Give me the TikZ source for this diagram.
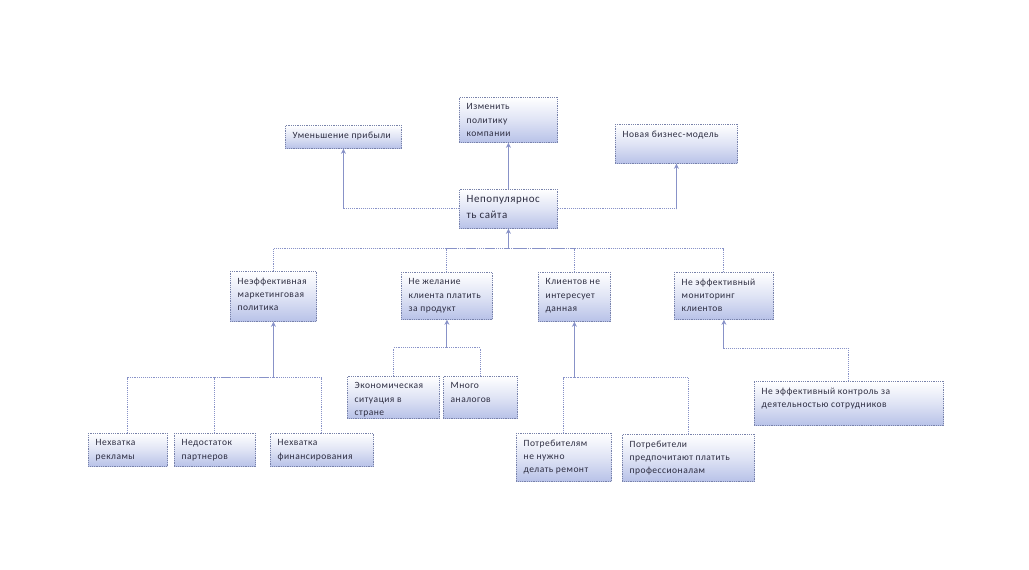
\documentclass[tikz,border=0pt]{standalone}
\usepackage{fontspec}
\setmainfont{Carlito}[LetterSpace=5]
\usetikzlibrary{arrows.meta,calc}
\definecolor{lnc}{RGB}{136,146,200}
\definecolor{bdc}{RGB}{120,130,170}
\definecolor{fillb}{RGB}{184,194,232}
\definecolor{txc}{RGB}{45,45,65}
\tikzset{
  boxst/.style={draw=bdc, densely dotted, line width=0.8pt, top color=white, bottom color=fillb, middle color=white!55!fillb, inner sep=0pt, anchor=north west},
  txt/.style={anchor=north west, align=left, text=txc, inner xsep=7.5pt, inner ysep=6.5pt, font=\fontsize{9.5}{13.3}\selectfont},
  conn/.style={draw=lnc, line width=0.9pt, densely dotted},
  arr/.style={draw=lnc, line width=0.9pt, -{Stealth[length=5pt,width=5pt]}},
}
\newcommand\bxx[6]{%
  \node[boxst, minimum width=#4pt, minimum height=#5pt] (#1) at (#2,#3) {};
  \begin{scope}
    \clip (#1.south west) rectangle (#1.north east);
    \node[txt] at (#1.north west) {#6};
  \end{scope}}
\begin{document}
\begin{tikzpicture}[x=1pt,y=-1pt]
\useasboundingbox (0,0) rectangle (1029,570);
% top level
\bxx{umen}{285}{125}{116}{23}{Уменьшение прибыли}
\bxx{izm}{459}{97}{98}{45}{Изменить\\политику\\компании}
\bxx{nov}{615}{124}{122}{39}{Новая бизнес-модель}
\node[boxst, minimum width=98pt, minimum height=39pt] (cen) at (459,189) {};
\node[txt, font=\fontsize{11}{16.5}\selectfont, inner ysep=6pt] at (cen.north west) {Непопулярнос\\ть сайта};
% second level
\bxx{neeff}{230}{271}{86}{50}{Неэффективная\\маркетинговая\\политика}
\bxx{nezh}{401}{272}{91}{47}{Не желание\\клиента платить\\за продукт}
\bxx{klien}{538}{272}{72}{49}{Клиентов не\\интересует\\данная}
\bxx{monit}{674}{272}{99}{47}{Не эффективный\\мониторинг\\клиентов}
% third level
\bxx{econ}{347}{376}{92}{42}{Экономическая\\ситуация в\\стране}
\bxx{mnogo}{443}{376}{74}{42}{Много\\аналогов}
\bxx{rekl}{88}{433}{79}{33}{Нехватка\\рекламы}
\bxx{partn}{174}{433}{81}{33}{Недостаток\\партнеров}
\bxx{fin}{270}{433}{103}{33}{Нехватка\\финансирования}
\bxx{potr1}{516}{433}{95}{48}{Потребителям\\не нужно\\делать ремонт}
\bxx{potr2}{622}{434}{132}{47}{Потребители\\предпочитают платить\\профессионалам}
\bxx{kontr}{754}{381}{189}{44}{Не эффективный контроль за\\деятельностью сотрудников}
% top connectors
\draw[arr] (cen.north) -- (izm.south);
\draw[conn] (cen.west) -| (umen.south);
\draw[arr] (umen.south) ++(0,60) -- (umen.south);
\draw[conn] (cen.east) -| (nov.south);
\draw[arr] (nov.south) ++(0,45) -- (nov.south);
% bus to center
\path (cen.south) ++(0,20) coordinate (bc);
\draw[arr] (bc) -- (cen.south);
\draw[conn] (neeff.north) |- (bc);
\draw[conn] (nezh.north) |- (bc);
\draw[conn] (klien.north) |- (bc);
\draw[conn] (monit.north) |- (bc);
% marketing
\path (neeff.south) ++(0,56) coordinate (bm);
\draw[arr] (bm) -- (neeff.south);
\draw[conn] (rekl.north) |- (bm);
\draw[conn] (partn.north) |- (bm);
\draw[conn] (fin.north) |- (bm);
% nezh
\path (nezh.south) ++(0,28) coordinate (bn);
\draw[arr] (bn) -- (nezh.south);
\draw[conn] (econ.north) |- (bn);
\draw[conn] (mnogo.north) |- (bn);
% klien
\path (klien.south) ++(0,56) coordinate (bk);
\draw[arr] (bk) -- (klien.south);
\draw[conn] (potr1.north) |- (bk);
\draw[conn] (potr2.north) |- (bk);
% monit
\path (monit.south) ++(0,29) coordinate (bmo);
\draw[arr] (bmo) -- (monit.south);
\draw[conn] (kontr.north) |- (bmo);
\end{tikzpicture}
\end{document}
